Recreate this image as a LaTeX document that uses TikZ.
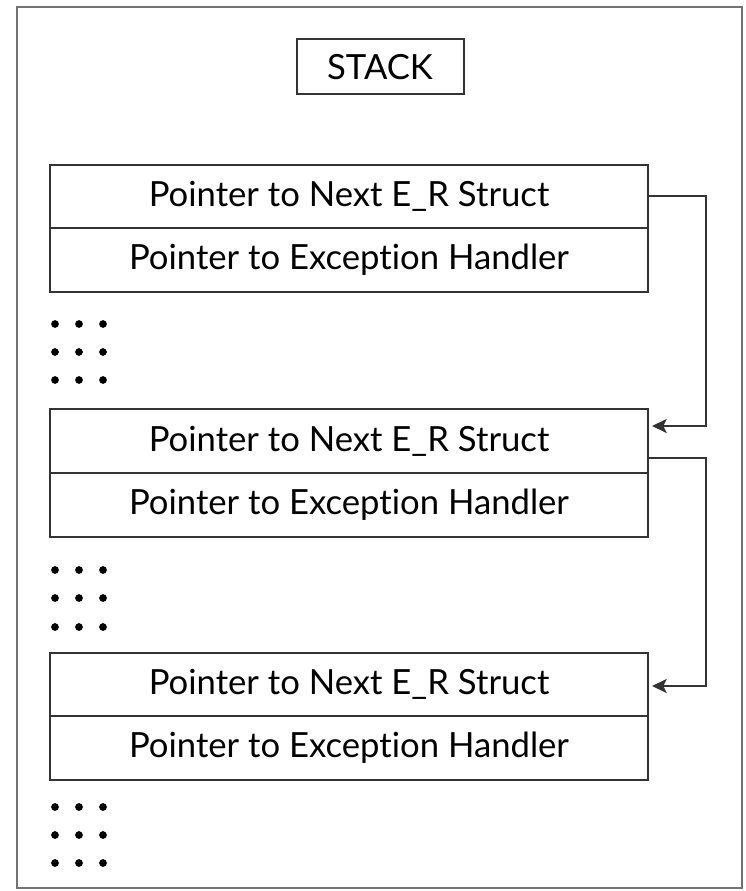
\documentclass[tikz,border=0pt]{standalone}
\usepackage{fontspec}
\setmainfont{Lato}[Ligatures=NoCommon]
\usetikzlibrary{arrows.meta,calc}
\begin{document}
\begin{tikzpicture}[x=0.75pt,y=-0.75pt,
  line join=miter,
  framecol/.style={draw=black!55, line width=1.6pt},
  labelfont/.style={font=\fontsize{26}{30}\selectfont, text=black},
  rowbox/.style={draw=black!80, line width=1.5pt, minimum width=598*0.75pt,
    inner sep=0pt, labelfont},
  link/.style={draw=black!80, line width=1.5pt,
    -{Stealth[length=11pt,width=10.5pt,inset=2.5pt]}},
  dot/.style={circle, fill=black, inner sep=0pt, minimum size=5.8pt}]
\useasboundingbox (0,0) rectangle (745,891);
% outer stack frame
\draw[framecol] (17,7) rectangle (742,888);
% title
\node[draw=black!80, line width=1.5pt, minimum width=167*0.75pt, minimum height=55*0.75pt,
  inner sep=0pt, labelfont] (stack) at (380,67) {STACK};
% exception registration records
\node[rowbox, minimum height=63*0.75pt] (r1a) at (349,196.5) {Pointer to Next E\_R Struct};
\node[rowbox, minimum height=64*0.75pt] (r1b) at (349,260) {Pointer to Exception Handler};
\node[rowbox, minimum height=64*0.75pt] (r2a) at (349,441) {Pointer to Next E\_R Struct};
\node[rowbox, minimum height=64*0.75pt] (r2b) at (349,505) {Pointer to Exception Handler};
\node[rowbox, minimum height=63*0.75pt] (r3a) at (349,684.5) {Pointer to Next E\_R Struct};
\node[rowbox, minimum height=64*0.75pt] (r3b) at (349,748) {Pointer to Exception Handler};
% links between records
\coordinate (e1) at ($(r2a.east)+(3,-15)$);
\coordinate (s2) at ($(r2a.east)+(0,17)$);
\coordinate (e2) at ($(r3a.east)+(3,1.5)$);
\draw[link] (r1a.east) -- ++(57,0) |- (e1);
\draw[link] (s2) -- ++(57,0) |- (e2);
% ellipsis dots
\foreach \y in {324,352,380, 570,598,627, 807,835,863}
  \foreach \x in {55,79,103}
    \node[dot] at (\x,\y) {};
\end{tikzpicture}
\end{document}
